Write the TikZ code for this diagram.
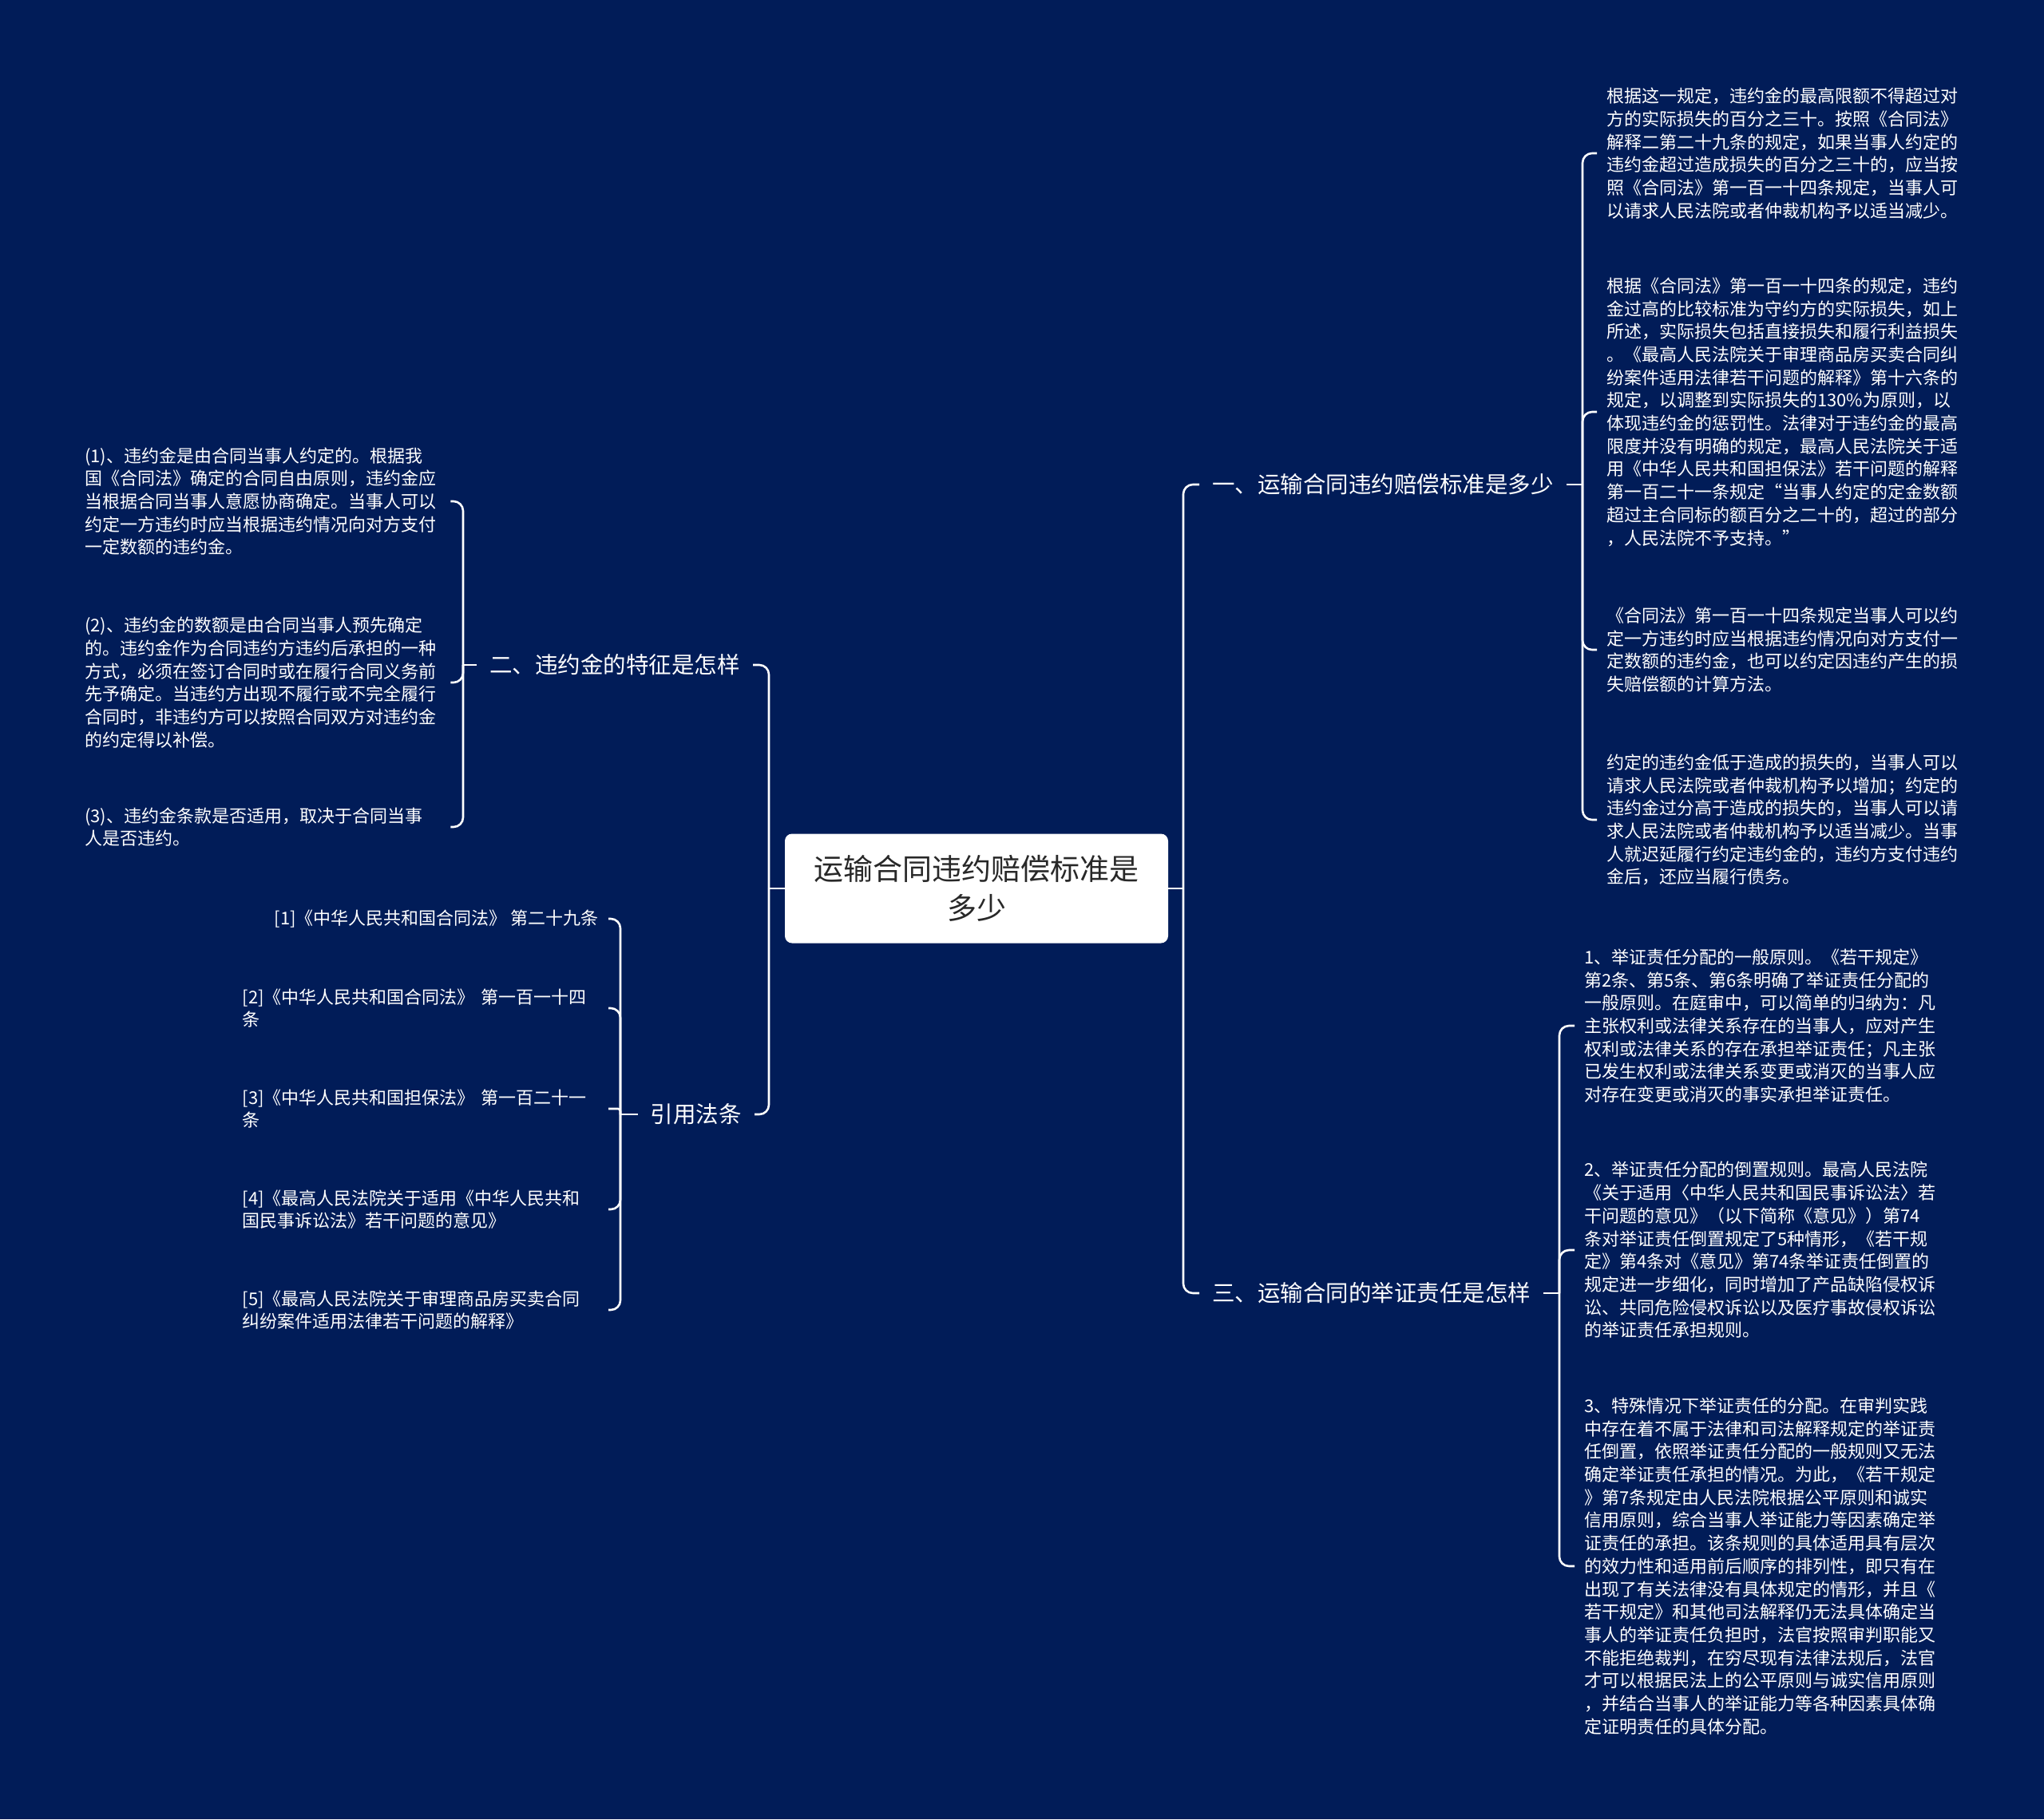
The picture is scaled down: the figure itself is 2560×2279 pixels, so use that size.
\documentclass[tikz,border=0pt]{standalone}
\usepackage{fontspec}
\newfontfamily\cjk{Noto Sans CJK SC}
\definecolor{bgnavy}{RGB}{1,28,88}
\definecolor{roottext}{RGB}{40,40,40}
\tikzset{
  conn/.style={draw=white, line width=2.6pt, rounded corners=12pt},
  leaf/.style={font=\cjk\fontsize{22}{28.7}\selectfont, text=white, align=left, inner xsep=12pt, inner ysep=4pt},
  wleaf/.style={leaf, text width=446pt},
  brlabel/.style={font=\cjk\fontsize{28.5}{34}\selectfont, text=white, inner xsep=16pt, inner ysep=6pt},
  rootbox/.style={fill=white, rounded corners=9pt, minimum width=480pt, minimum height=137pt, align=center, font=\cjk\fontsize{37}{49}\selectfont, text=roottext}
}
\begin{document}
\begin{tikzpicture}[x=1pt,y=-1pt]
\useasboundingbox (0,0) rectangle (2560,2279);
\fill[bgnavy] (0,0) rectangle (2560,2279);

% root
\node[rootbox] (root) at (1223,1113) {运输合同违约赔偿标准是\\多少};
\coordinate (jr) at (1482,1113);
\coordinate (jl) at (963,1113);

% branches
\node[brlabel, anchor=west] (b1) at (1502,607) {一、运输合同违约赔偿标准是多少};
\node[brlabel, anchor=west] (b3) at (1502,1620) {三、运输合同的举证责任是怎样};
\node[brlabel, anchor=east] (b2) at (943,833) {二、违约金的特征是怎样};
\node[brlabel, anchor=east] (b4) at (945,1396) {引用法条};

\draw[conn] (root.east) -- (jr);
\draw[conn] (jr) |- (b1.west);
\draw[conn] (jr) |- (b3.west);
\draw[conn] (root.west) -- (jl);
\draw[conn] (jl) |- (b2.east);
\draw[conn] (jl) |- (b4.east);

% branch 1 children
\coordinate (v1) at (1982,607);
\node[leaf, anchor=west] (r1) at (2000,192) {根据这一规定，违约金的最高限额不得超过对\\方的实际损失的百分之三十。按照《合同法》\\解释二第二十九条的规定，如果当事人约定的\\违约金超过造成损失的百分之三十的，应当按\\照《合同法》第一百一十四条规定，当事人可\\以请求人民法院或者仲裁机构予以适当减少。};
\node[leaf, anchor=west] (r2) at (2000,516) {根据《合同法》第一百一十四条的规定，违约\\金过高的比较标准为守约方的实际损失，如上\\所述，实际损失包括直接损失和履行利益损失\\。《最高人民法院关于审理商品房买卖合同纠\\纷案件适用法律若干问题的解释》第十六条的\\规定，以调整到实际损失的130\%为原则，以\\体现违约金的惩罚性。法律对于违约金的最高\\限度并没有明确的规定，最高人民法院关于适\\用《中华人民共和国担保法》若干问题的解释\\第一百二十一条规定“当事人约定的定金数额\\超过主合同标的额百分之二十的，超过的部分\\，人民法院不予支持。”};
\node[leaf, anchor=west] (r3) at (2000,814) {《合同法》第一百一十四条规定当事人可以约\\定一方违约时应当根据违约情况向对方支付一\\定数额的违约金，也可以约定因违约产生的损\\失赔偿额的计算方法。};
\node[leaf, anchor=west] (r4) at (2000,1027) {约定的违约金低于造成的损失的，当事人可以\\请求人民法院或者仲裁机构予以增加；约定的\\违约金过分高于造成的损失的，当事人可以请\\求人民法院或者仲裁机构予以适当减少。当事\\人就迟延履行约定违约金的，违约方支付违约\\金后，还应当履行债务。};
\draw[conn] (b1.east) -- (v1);
\foreach \n in {r1,r2,r3,r4} {\draw[conn] (v1) |- (\n.west);}

% branch 3 children
\coordinate (v3) at (1953,1620);
\node[leaf, anchor=west] (s1) at (1972,1285) {1、举证责任分配的一般原则。《若干规定》\\第2条、第5条、第6条明确了举证责任分配的\\一般原则。在庭审中，可以简单的归纳为：凡\\主张权利或法律关系存在的当事人，应对产生\\权利或法律关系的存在承担举证责任；凡主张\\已发生权利或法律关系变更或消灭的当事人应\\对存在变更或消灭的事实承担举证责任。};
\node[leaf, anchor=west] (s2) at (1972,1566) {2、举证责任分配的倒置规则。最高人民法院\\《关于适用〈中华人民共和国民事诉讼法〉若\\干问题的意见》（以下简称《意见》）第74\\条对举证责任倒置规定了5种情形，《若干规\\定》第4条对《意见》第74条举证责任倒置的\\规定进一步细化，同时增加了产品缺陷侵权诉\\讼、共同危险侵权诉讼以及医疗事故侵权诉讼\\的举证责任承担规则。};
\node[leaf, anchor=west] (s3) at (1972,1962) {3、特殊情况下举证责任的分配。在审判实践\\中存在着不属于法律和司法解释规定的举证责\\任倒置，依照举证责任分配的一般规则又无法\\确定举证责任承担的情况。为此，《若干规定\\》第7条规定由人民法院根据公平原则和诚实\\信用原则，综合当事人举证能力等因素确定举\\证责任的承担。该条规则的具体适用具有层次\\的效力性和适用前后顺序的排列性，即只有在\\出现了有关法律没有具体规定的情形，并且《\\若干规定》和其他司法解释仍无法具体确定当\\事人的举证责任负担时，法官按照审判职能又\\不能拒绝裁判，在穷尽现有法律法规后，法官\\才可以根据民法上的公平原则与诚实信用原则\\，并结合当事人的举证能力等各种因素具体确\\定证明责任的具体分配。};
\draw[conn] (b3.east) -- (v3);
\foreach \n in {s1,s2,s3} {\draw[conn] (v3) |- (\n.west);}

% branch 2 children
\coordinate (v2) at (580,833);
\node[wleaf, anchor=west] (l1) at (94,628) {(1)、违约金是由合同当事人约定的。根据我\\国《合同法》确定的合同自由原则，违约金应\\当根据合同当事人意愿协商确定。当事人可以\\约定一方违约时应当根据违约情况向对方支付\\一定数额的违约金。};
\node[wleaf, anchor=west] (l2) at (94,855) {(2)、违约金的数额是由合同当事人预先确定\\的。违约金作为合同违约方违约后承担的一种\\方式，必须在签订合同时或在履行合同义务前\\先予确定。当违约方出现不履行或不完全履行\\合同时，非违约方可以按照合同双方对违约金\\的约定得以补偿。};
\node[wleaf, anchor=west] (l3) at (94,1036) {(3)、违约金条款是否适用，取决于合同当事\\人是否违约。};
\draw[conn] (b2.west) -- (v2);
\foreach \n in {l1,l2,l3} {\draw[conn] (v2) |- (\n.east);}

% branch 4 children
\coordinate (v4) at (777,1396);
\node[leaf, anchor=east] (c1) at (762,1151) {[1]《中华人民共和国合同法》 第二十九条};
\node[wleaf, anchor=east] (c2) at (762,1263) {[2]《中华人民共和国合同法》 第一百一十四\\条};
\node[wleaf, anchor=east] (c3) at (762,1389) {[3]《中华人民共和国担保法》 第一百二十一\\条};
\node[wleaf, anchor=east] (c4) at (762,1515) {[4]《最高人民法院关于适用《中华人民共和\\国民事诉讼法》若干问题的意见》};
\node[wleaf, anchor=east] (c5) at (762,1641) {[5]《最高人民法院关于审理商品房买卖合同\\纠纷案件适用法律若干问题的解释》};
\draw[conn] (b4.west) -- (v4);
\foreach \n in {c1,c2,c4,c5} {\draw[conn] (v4) |- (\n.east);}
\draw[conn, rounded corners=3pt] (v4) |- (c3.east);
\end{tikzpicture}
\end{document}
